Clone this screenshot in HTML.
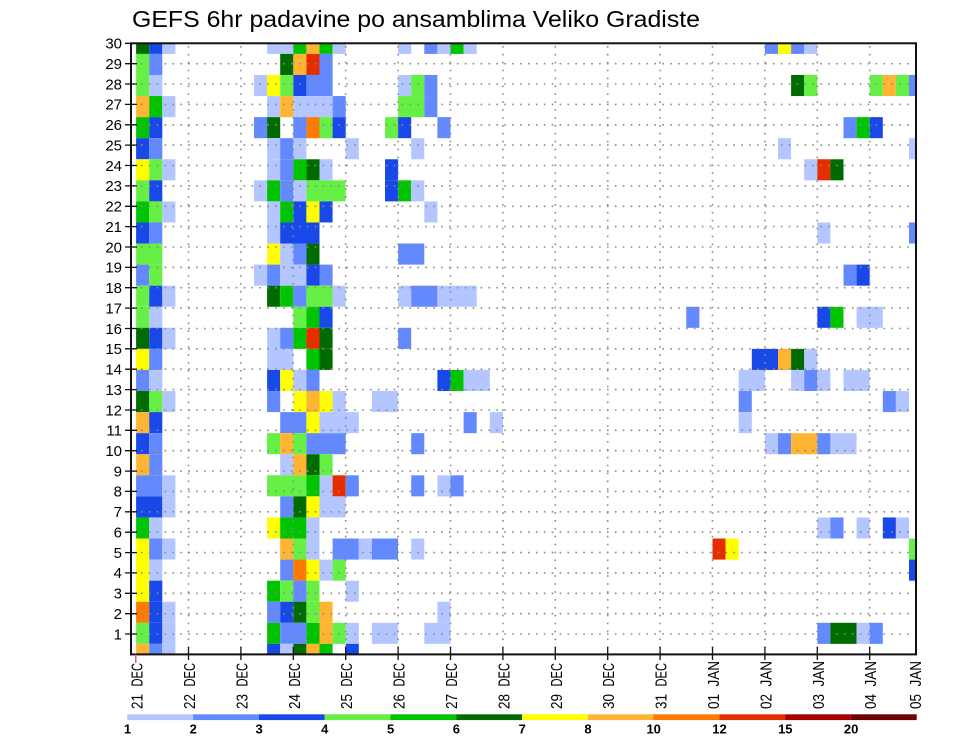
<!DOCTYPE html>
<html>
<head>
<meta charset="utf-8">
<style>
html,body{margin:0;padding:0;background:#fff;}
svg{display:block;}
text{font-family:"Liberation Sans",sans-serif;fill:#000;}
.a{fill:#b4c6ff}.b{fill:#6289ff}.c{fill:#1848e8}.d{fill:#66f046}.e{fill:#00c400}.f{fill:#006c00}
.g{fill:#ffff00}.h{fill:#ffb432}.i{fill:#ff7a00}.j{fill:#e62d00}.k{fill:#a80000}.l{fill:#6e0000}
</style>
</head>
<body>
<svg width="960" height="742" viewBox="0 0 960 742" xmlns="http://www.w3.org/2000/svg">
<rect x="0" y="0" width="960" height="742" fill="#fff"/>
<text x="132" y="27" font-size="23" textLength="568" lengthAdjust="spacingAndGlyphs">GEFS 6hr padavine po ansamblima Veliko Gradiste</text>

<!-- cells -->
<g>
<!-- j29 -->
<g transform="translate(0,43.3)">
<rect class="f" x="136.1" width="13.1" height="10.61"/><rect class="c" x="149.2" width="13.1" height="10.61"/><rect class="a" x="162.3" width="13.1" height="10.61"/>
<rect class="a" x="267.1" width="26.2" height="10.61"/><rect class="e" x="293.3" width="13.1" height="10.61"/><rect class="h" x="306.4" width="13.1" height="10.61"/><rect class="e" x="319.5" width="13.1" height="10.61"/><rect class="a" x="332.6" width="13.1" height="10.61"/>
<rect class="a" x="398.1" width="13.1" height="10.61"/><rect class="b" x="424.3" width="13.1" height="10.61"/><rect class="a" x="437.4" width="13.1" height="10.61"/><rect class="e" x="450.5" width="13.1" height="10.61"/><rect class="a" x="463.6" width="13.1" height="10.61"/>
<rect class="b" x="764.9" width="13.1" height="10.61"/><rect class="g" x="778" width="13.1" height="10.61"/><rect class="b" x="791.1" width="13.1" height="10.61"/><rect class="a" x="804.2" width="13.1" height="10.61"/>
</g>
<!-- j28 -->
<g transform="translate(0,53.91)">
<rect class="d" x="136.1" width="13.1" height="21.07"/><rect class="b" x="149.2" width="13.1" height="21.07"/>
<rect class="f" x="280.2" width="13.1" height="21.07"/><rect class="h" x="293.3" width="13.1" height="21.07"/><rect class="j" x="306.4" width="13.1" height="21.07"/><rect class="b" x="319.5" width="13.1" height="21.07"/>
</g>
<!-- j27 -->
<g transform="translate(0,74.98)">
<rect class="d" x="136.1" width="13.1" height="21.07"/><rect class="a" x="149.2" width="13.1" height="21.07"/>
<rect class="a" x="254" width="13.1" height="21.07"/><rect class="g" x="267.1" width="13.1" height="21.07"/><rect class="d" x="280.2" width="13.1" height="21.07"/><rect class="c" x="293.3" width="13.1" height="21.07"/><rect class="b" x="306.4" width="26.2" height="21.07"/>
<rect class="a" x="398.1" width="13.1" height="21.07"/><rect class="d" x="411.2" width="13.1" height="21.07"/><rect class="b" x="424.3" width="13.1" height="21.07"/>
<rect class="f" x="791.1" width="13.1" height="21.07"/><rect class="d" x="804.2" width="13.1" height="21.07"/>
<rect class="d" x="869.7" width="13.1" height="21.07"/><rect class="h" x="882.8" width="13.1" height="21.07"/><rect class="d" x="895.9" width="13.1" height="21.07"/><rect class="b" x="909" width="7" height="21.07"/>
</g>
<!-- j26 -->
<g transform="translate(0,96.05)">
<rect class="h" x="136.1" width="13.1" height="21.07"/><rect class="e" x="149.2" width="13.1" height="21.07"/><rect class="a" x="162.3" width="13.1" height="21.07"/>
<rect class="a" x="267.1" width="13.1" height="21.07"/><rect class="h" x="280.2" width="13.1" height="21.07"/><rect class="a" x="293.3" width="39.3" height="21.07"/><rect class="b" x="332.6" width="13.1" height="21.07"/>
<rect class="d" x="398.1" width="26.2" height="21.07"/><rect class="b" x="424.3" width="13.1" height="21.07"/>
</g>
<!-- j25 -->
<g transform="translate(0,117.12)">
<rect class="e" x="136.1" width="13.1" height="21.07"/><rect class="c" x="149.2" width="13.1" height="21.07"/>
<rect class="b" x="254" width="13.1" height="21.07"/><rect class="f" x="267.1" width="13.1" height="21.07"/><rect class="b" x="293.3" width="13.1" height="21.07"/><rect class="i" x="306.4" width="13.1" height="21.07"/><rect class="d" x="319.5" width="13.1" height="21.07"/><rect class="c" x="332.6" width="13.1" height="21.07"/>
<rect class="d" x="385" width="13.1" height="21.07"/><rect class="c" x="398.1" width="13.1" height="21.07"/><rect class="b" x="437.4" width="13.1" height="21.07"/>
<rect class="b" x="843.5" width="13.1" height="21.07"/><rect class="e" x="856.6" width="13.1" height="21.07"/><rect class="c" x="869.7" width="13.1" height="21.07"/>
</g>
<!-- j24 -->
<g transform="translate(0,138.19)">
<rect class="c" x="136.1" width="13.1" height="21.07"/><rect class="b" x="149.2" width="13.1" height="21.07"/>
<rect class="a" x="267.1" width="13.1" height="21.07"/><rect class="b" x="280.2" width="13.1" height="21.07"/><rect class="a" x="293.3" width="13.1" height="21.07"/>
<rect class="a" x="345.7" width="13.1" height="21.07"/><rect class="a" x="411.2" width="13.1" height="21.07"/>
<rect class="a" x="778" width="13.1" height="21.07"/><rect class="a" x="909" width="7" height="21.07"/>
</g>
<!-- j23 -->
<g transform="translate(0,159.26)">
<rect class="g" x="136.1" width="13.1" height="21.07"/><rect class="d" x="149.2" width="13.1" height="21.07"/><rect class="a" x="162.3" width="13.1" height="21.07"/>
<rect class="a" x="267.1" width="13.1" height="21.07"/><rect class="b" x="280.2" width="13.1" height="21.07"/><rect class="e" x="293.3" width="13.1" height="21.07"/><rect class="f" x="306.4" width="13.1" height="21.07"/><rect class="a" x="319.5" width="13.1" height="21.07"/>
<rect class="c" x="385" width="13.1" height="21.07"/>
<rect class="a" x="804.2" width="13.1" height="21.07"/><rect class="j" x="817.3" width="13.1" height="21.07"/><rect class="f" x="830.4" width="13.1" height="21.07"/>
</g>
<!-- j22 -->
<g transform="translate(0,180.33)">
<rect class="d" x="136.1" width="13.1" height="21.07"/><rect class="c" x="149.2" width="13.1" height="21.07"/>
<rect class="a" x="254" width="13.1" height="21.07"/><rect class="e" x="267.1" width="13.1" height="21.07"/><rect class="b" x="280.2" width="13.1" height="21.07"/><rect class="a" x="293.3" width="13.1" height="21.07"/><rect class="d" x="306.4" width="39.3" height="21.07"/>
<rect class="c" x="385" width="13.1" height="21.07"/><rect class="e" x="398.1" width="13.1" height="21.07"/><rect class="a" x="411.2" width="13.1" height="21.07"/>
</g>
<!-- j21 -->
<g transform="translate(0,201.4)">
<rect class="e" x="136.1" width="13.1" height="21.07"/><rect class="d" x="149.2" width="13.1" height="21.07"/><rect class="a" x="162.3" width="13.1" height="21.07"/>
<rect class="a" x="267.1" width="13.1" height="21.07"/><rect class="e" x="280.2" width="13.1" height="21.07"/><rect class="c" x="293.3" width="13.1" height="21.07"/><rect class="g" x="306.4" width="13.1" height="21.07"/><rect class="c" x="319.5" width="13.1" height="21.07"/>
<rect class="a" x="424.3" width="13.1" height="21.07"/>
</g>
<!-- j20 -->
<g transform="translate(0,222.47)">
<rect class="c" x="136.1" width="13.1" height="21.07"/><rect class="b" x="149.2" width="13.1" height="21.07"/>
<rect class="a" x="267.1" width="13.1" height="21.07"/><rect class="c" x="280.2" width="39.3" height="21.07"/>
<rect class="a" x="817.3" width="13.1" height="21.07"/><rect class="b" x="909" width="7" height="21.07"/>
</g>
<!-- j19 -->
<g transform="translate(0,243.54)">
<rect class="d" x="136.1" width="26.2" height="21.07"/>
<rect class="g" x="267.1" width="13.1" height="21.07"/><rect class="a" x="280.2" width="13.1" height="21.07"/><rect class="b" x="293.3" width="13.1" height="21.07"/><rect class="f" x="306.4" width="13.1" height="21.07"/>
<rect class="b" x="398.1" width="26.2" height="21.07"/>
</g>
<!-- j18 -->
<g transform="translate(0,264.61)">
<rect class="b" x="136.1" width="13.1" height="21.07"/><rect class="d" x="149.2" width="13.1" height="21.07"/>
<rect class="a" x="254" width="13.1" height="21.07"/><rect class="b" x="267.1" width="13.1" height="21.07"/><rect class="a" x="280.2" width="26.2" height="21.07"/><rect class="c" x="306.4" width="13.1" height="21.07"/><rect class="b" x="319.5" width="13.1" height="21.07"/>
<rect class="b" x="843.5" width="13.1" height="21.07"/><rect class="c" x="856.6" width="13.1" height="21.07"/>
</g>
<!-- j17 -->
<g transform="translate(0,285.68)">
<rect class="d" x="136.1" width="13.1" height="21.07"/><rect class="c" x="149.2" width="13.1" height="21.07"/><rect class="a" x="162.3" width="13.1" height="21.07"/>
<rect class="f" x="267.1" width="13.1" height="21.07"/><rect class="e" x="280.2" width="13.1" height="21.07"/><rect class="b" x="293.3" width="13.1" height="21.07"/><rect class="d" x="306.4" width="26.2" height="21.07"/><rect class="a" x="332.6" width="13.1" height="21.07"/>
<rect class="a" x="398.1" width="13.1" height="21.07"/><rect class="b" x="411.2" width="26.2" height="21.07"/><rect class="a" x="437.4" width="39.3" height="21.07"/>
</g>
<!-- j16 -->
<g transform="translate(0,306.75)">
<rect class="d" x="136.1" width="13.1" height="21.07"/><rect class="a" x="149.2" width="13.1" height="21.07"/>
<rect class="d" x="293.3" width="13.1" height="21.07"/><rect class="e" x="306.4" width="13.1" height="21.07"/><rect class="c" x="319.5" width="13.1" height="21.07"/>
<rect class="b" x="686.3" width="13.1" height="21.07"/>
<rect class="c" x="817.3" width="13.1" height="21.07"/><rect class="e" x="830.4" width="13.1" height="21.07"/><rect class="a" x="856.6" width="26.2" height="21.07"/>
</g>
<!-- j15 -->
<g transform="translate(0,327.82)">
<rect class="f" x="136.1" width="13.1" height="21.07"/><rect class="c" x="149.2" width="13.1" height="21.07"/><rect class="a" x="162.3" width="13.1" height="21.07"/>
<rect class="a" x="267.1" width="13.1" height="21.07"/><rect class="b" x="280.2" width="13.1" height="21.07"/><rect class="e" x="293.3" width="13.1" height="21.07"/><rect class="j" x="306.4" width="13.1" height="21.07"/><rect class="f" x="319.5" width="13.1" height="21.07"/>
<rect class="b" x="398.1" width="13.1" height="21.07"/>
</g>
<!-- j14 -->
<g transform="translate(0,348.89)">
<rect class="g" x="136.1" width="13.1" height="21.07"/><rect class="b" x="149.2" width="13.1" height="21.07"/>
<rect class="a" x="267.1" width="26.2" height="21.07"/><rect class="e" x="306.4" width="13.1" height="21.07"/><rect class="f" x="319.5" width="13.1" height="21.07"/>
<rect class="c" x="751.8" width="26.2" height="21.07"/><rect class="h" x="778" width="13.1" height="21.07"/><rect class="f" x="791.1" width="13.1" height="21.07"/><rect class="a" x="804.2" width="13.1" height="21.07"/>
</g>
<!-- j13 -->
<g transform="translate(0,369.96)">
<rect class="b" x="136.1" width="13.1" height="21.07"/><rect class="a" x="149.2" width="13.1" height="21.07"/>
<rect class="c" x="267.1" width="13.1" height="21.07"/><rect class="g" x="280.2" width="13.1" height="21.07"/><rect class="a" x="293.3" width="13.1" height="21.07"/><rect class="b" x="306.4" width="13.1" height="21.07"/>
<rect class="c" x="437.4" width="13.1" height="21.07"/><rect class="e" x="450.5" width="13.1" height="21.07"/><rect class="a" x="463.6" width="26.2" height="21.07"/>
<rect class="a" x="738.7" width="26.2" height="21.07"/><rect class="a" x="791.1" width="13.1" height="21.07"/><rect class="b" x="804.2" width="13.1" height="21.07"/><rect class="a" x="817.3" width="13.1" height="21.07"/><rect class="a" x="843.5" width="26.2" height="21.07"/>
</g>
<!-- j12 -->
<g transform="translate(0,391.03)">
<rect class="f" x="136.1" width="13.1" height="21.07"/><rect class="d" x="149.2" width="13.1" height="21.07"/><rect class="a" x="162.3" width="13.1" height="21.07"/>
<rect class="b" x="267.1" width="13.1" height="21.07"/><rect class="g" x="293.3" width="13.1" height="21.07"/><rect class="h" x="306.4" width="13.1" height="21.07"/><rect class="g" x="319.5" width="13.1" height="21.07"/><rect class="a" x="332.6" width="13.1" height="21.07"/>
<rect class="a" x="371.9" width="26.2" height="21.07"/>
<rect class="b" x="738.7" width="13.1" height="21.07"/><rect class="b" x="882.8" width="13.1" height="21.07"/><rect class="a" x="895.9" width="13.1" height="21.07"/>
</g>
<!-- j11 -->
<g transform="translate(0,412.1)">
<rect class="h" x="136.1" width="13.1" height="21.07"/><rect class="c" x="149.2" width="13.1" height="21.07"/>
<rect class="b" x="280.2" width="26.2" height="21.07"/><rect class="g" x="306.4" width="13.1" height="21.07"/><rect class="a" x="319.5" width="39.3" height="21.07"/>
<rect class="b" x="463.6" width="13.1" height="21.07"/><rect class="a" x="489.8" width="13.1" height="21.07"/>
<rect class="a" x="738.7" width="13.1" height="21.07"/>
</g>
<!-- j10 -->
<g transform="translate(0,433.17)">
<rect class="c" x="136.1" width="13.1" height="21.07"/><rect class="b" x="149.2" width="13.1" height="21.07"/>
<rect class="d" x="267.1" width="13.1" height="21.07"/><rect class="h" x="280.2" width="13.1" height="21.07"/><rect class="d" x="293.3" width="13.1" height="21.07"/><rect class="b" x="306.4" width="39.3" height="21.07"/>
<rect class="b" x="411.2" width="13.1" height="21.07"/>
<rect class="a" x="764.9" width="13.1" height="21.07"/><rect class="b" x="778" width="13.1" height="21.07"/><rect class="h" x="791.1" width="26.2" height="21.07"/><rect class="b" x="817.3" width="13.1" height="21.07"/><rect class="a" x="830.4" width="26.2" height="21.07"/>
</g>
<!-- j9 -->
<g transform="translate(0,454.24)">
<rect class="h" x="136.1" width="13.1" height="21.07"/><rect class="b" x="149.2" width="13.1" height="21.07"/>
<rect class="a" x="280.2" width="13.1" height="21.07"/><rect class="h" x="293.3" width="13.1" height="21.07"/><rect class="f" x="306.4" width="13.1" height="21.07"/><rect class="d" x="319.5" width="13.1" height="21.07"/>
</g>
<!-- j8 -->
<g transform="translate(0,475.31)">
<rect class="b" x="136.1" width="26.2" height="21.07"/><rect class="a" x="162.3" width="13.1" height="21.07"/>
<rect class="d" x="267.1" width="39.3" height="21.07"/><rect class="e" x="306.4" width="13.1" height="21.07"/><rect class="a" x="319.5" width="13.1" height="21.07"/><rect class="j" x="332.6" width="13.1" height="21.07"/><rect class="b" x="345.7" width="13.1" height="21.07"/>
<rect class="b" x="411.2" width="13.1" height="21.07"/><rect class="a" x="437.4" width="13.1" height="21.07"/><rect class="b" x="450.5" width="13.1" height="21.07"/>
</g>
<!-- j7 -->
<g transform="translate(0,496.38)">
<rect class="c" x="136.1" width="26.2" height="21.07"/><rect class="a" x="162.3" width="13.1" height="21.07"/>
<rect class="b" x="280.2" width="13.1" height="21.07"/><rect class="f" x="293.3" width="13.1" height="21.07"/><rect class="g" x="306.4" width="13.1" height="21.07"/><rect class="a" x="319.5" width="26.2" height="21.07"/>
</g>
<!-- j6 -->
<g transform="translate(0,517.45)">
<rect class="e" x="136.1" width="13.1" height="21.07"/><rect class="a" x="149.2" width="13.1" height="21.07"/>
<rect class="g" x="267.1" width="13.1" height="21.07"/><rect class="e" x="280.2" width="26.2" height="21.07"/><rect class="a" x="306.4" width="13.1" height="21.07"/>
<rect class="a" x="817.3" width="13.1" height="21.07"/><rect class="b" x="830.4" width="13.1" height="21.07"/><rect class="a" x="856.6" width="13.1" height="21.07"/><rect class="c" x="882.8" width="13.1" height="21.07"/><rect class="a" x="895.9" width="13.1" height="21.07"/>
</g>
<!-- j5 -->
<g transform="translate(0,538.52)">
<rect class="g" x="136.1" width="13.1" height="21.07"/><rect class="b" x="149.2" width="13.1" height="21.07"/><rect class="a" x="162.3" width="13.1" height="21.07"/>
<rect class="h" x="280.2" width="13.1" height="21.07"/><rect class="d" x="293.3" width="13.1" height="21.07"/><rect class="a" x="306.4" width="13.1" height="21.07"/>
<rect class="b" x="332.6" width="26.2" height="21.07"/><rect class="a" x="358.8" width="13.1" height="21.07"/><rect class="b" x="371.9" width="26.2" height="21.07"/><rect class="a" x="411.2" width="13.1" height="21.07"/>
<rect class="j" x="712.5" width="13.1" height="21.07"/><rect class="g" x="725.6" width="13.1" height="21.07"/><rect class="d" x="909" width="7" height="21.07"/>
</g>
<!-- j4 -->
<g transform="translate(0,559.59)">
<rect class="g" x="136.1" width="13.1" height="21.07"/><rect class="a" x="149.2" width="13.1" height="21.07"/>
<rect class="b" x="280.2" width="13.1" height="21.07"/><rect class="i" x="293.3" width="13.1" height="21.07"/><rect class="g" x="306.4" width="13.1" height="21.07"/><rect class="a" x="319.5" width="13.1" height="21.07"/><rect class="d" x="332.6" width="13.1" height="21.07"/>
<rect class="c" x="909" width="7" height="21.07"/>
</g>
<!-- j3 -->
<g transform="translate(0,580.66)">
<rect class="g" x="136.1" width="13.1" height="21.07"/><rect class="c" x="149.2" width="13.1" height="21.07"/>
<rect class="e" x="267.1" width="13.1" height="21.07"/><rect class="d" x="280.2" width="13.1" height="21.07"/><rect class="b" x="293.3" width="13.1" height="21.07"/><rect class="d" x="306.4" width="13.1" height="21.07"/><rect class="a" x="345.7" width="13.1" height="21.07"/>
</g>
<!-- j2 -->
<g transform="translate(0,601.73)">
<rect class="i" x="136.1" width="13.1" height="21.07"/><rect class="c" x="149.2" width="13.1" height="21.07"/><rect class="a" x="162.3" width="13.1" height="21.07"/>
<rect class="b" x="267.1" width="13.1" height="21.07"/><rect class="c" x="280.2" width="13.1" height="21.07"/><rect class="f" x="293.3" width="13.1" height="21.07"/><rect class="d" x="306.4" width="13.1" height="21.07"/><rect class="h" x="319.5" width="13.1" height="21.07"/>
<rect class="a" x="437.4" width="13.1" height="21.07"/>
</g>
<!-- j1 -->
<g transform="translate(0,622.8)">
<rect class="d" x="136.1" width="13.1" height="21.07"/><rect class="c" x="149.2" width="13.1" height="21.07"/><rect class="a" x="162.3" width="13.1" height="21.07"/>
<rect class="e" x="267.1" width="13.1" height="21.07"/><rect class="b" x="280.2" width="26.2" height="21.07"/><rect class="e" x="306.4" width="13.1" height="21.07"/><rect class="h" x="319.5" width="13.1" height="21.07"/><rect class="d" x="332.6" width="13.1" height="21.07"/><rect class="a" x="345.7" width="13.1" height="21.07"/>
<rect class="a" x="371.9" width="26.2" height="21.07"/><rect class="a" x="424.3" width="26.2" height="21.07"/>
<rect class="b" x="817.3" width="13.1" height="21.07"/><rect class="f" x="830.4" width="26.2" height="21.07"/><rect class="a" x="856.6" width="13.1" height="21.07"/><rect class="b" x="869.7" width="13.1" height="21.07"/>
</g>
<!-- j0 -->
<g transform="translate(0,643.87)">
<rect class="h" x="136.1" width="13.1" height="10.53"/><rect class="b" x="149.2" width="13.1" height="10.53"/><rect class="a" x="162.3" width="13.1" height="10.53"/>
<rect class="c" x="267.1" width="13.1" height="10.53"/><rect class="a" x="280.2" width="13.1" height="10.53"/><rect class="f" x="293.3" width="13.1" height="10.53"/><rect class="h" x="306.4" width="13.1" height="10.53"/><rect class="e" x="319.5" width="13.1" height="10.53"/><rect class="c" x="345.7" width="13.1" height="10.53"/>
</g>
</g>

<!-- dotted grid -->
<g stroke="#8a8a8a" stroke-width="1.6" stroke-dasharray="1.6 6.3" fill="none">
<path d="M133 634H916M133 613.7H916M133 593.3H916M133 572.9H916M133 552.6H916M133 532.2H916M133 511.8H916M133 491.4H916M133 471.1H916M133 450.7H916M133 430.3H916M133 410H916M133 389.6H916M133 369.2H916M133 348.8H916M133 328.5H916M133 308.1H916M133 287.7H916M133 267.4H916M133 247H916M133 226.6H916M133 206.3H916M133 185.9H916M133 165.5H916M133 145.1H916M133 124.8H916M133 104.4H916M133 84H916M133 63.7H916"/>
<path d="M188.5 46V654M240.9 46V654M293.3 46V654M345.7 46V654M398.1 46V654M450.5 46V654M502.9 46V654M555.3 46V654M607.7 46V654M660.1 46V654M712.5 46V654M764.9 46V654M817.3 46V654M869.7 46V654"/>
</g>

<!-- frame -->
<rect x="131" y="43.3" width="785" height="611.1" fill="none" stroke="#111" stroke-width="2"/>

<!-- y ticks -->
<g stroke="#111" stroke-width="1.3">
<path d="M125 634H137M125 613.7H137M125 593.3H137M125 572.9H137M125 552.6H137M125 532.2H137M125 511.8H137M125 491.4H137M125 471.1H137M125 450.7H137M125 430.3H137M125 410H137M125 389.6H137M125 369.2H137M125 348.8H137M125 328.5H137M125 308.1H137M125 287.7H137M125 267.4H137M125 247H137M125 226.6H137M125 206.3H137M125 185.9H137M125 165.5H137M125 145.1H137M125 124.8H137M125 104.4H137M125 84H137M125 63.7H137M125 43.3H137"/>
</g>
<!-- x ticks -->
<g stroke="#111" stroke-width="1.3">
<path d="M188.5 647V660M240.9 647V660M293.3 647V660M345.7 647V660M398.1 647V660M450.5 647V660M502.9 647V660M555.3 647V660M607.7 647V660M660.1 647V660M712.5 647V660M764.9 647V660M817.3 647V660M869.7 647V660"/>
</g>
<path d="M135.8 654V663" stroke="#b06060" stroke-width="1.3"/>

<!-- y labels -->
<g font-size="15" text-anchor="end">
<text x="122" y="639.3">1</text><text x="122" y="619">2</text><text x="122" y="598.6">3</text><text x="122" y="578.2">4</text><text x="122" y="557.9">5</text>
<text x="122" y="537.5">6</text><text x="122" y="517.1">7</text><text x="122" y="496.7">8</text><text x="122" y="476.4">9</text><text x="122" y="456">10</text>
<text x="122" y="435.6">11</text><text x="122" y="415.3">12</text><text x="122" y="394.9">13</text><text x="122" y="374.5">14</text><text x="122" y="354.1">15</text>
<text x="122" y="333.8">16</text><text x="122" y="313.4">17</text><text x="122" y="293">18</text><text x="122" y="272.7">19</text><text x="122" y="252.3">20</text>
<text x="122" y="231.9">21</text><text x="122" y="211.6">22</text><text x="122" y="191.2">23</text><text x="122" y="170.8">24</text><text x="122" y="150.4">25</text>
<text x="122" y="130.1">26</text><text x="122" y="109.7">27</text><text x="122" y="89.3">28</text><text x="122" y="69">29</text><text x="122" y="48.6">30</text>
</g>

<!-- x labels (rotated) -->
<g font-size="16" lengthAdjust="spacingAndGlyphs">
<text transform="translate(142.6,709) rotate(-90)" textLength="15" lengthAdjust="spacingAndGlyphs">21</text><text transform="translate(142.6,686.5) rotate(-90)" textLength="23.5" lengthAdjust="spacingAndGlyphs">DEC</text>
<text transform="translate(195,709) rotate(-90)" textLength="15" lengthAdjust="spacingAndGlyphs">22</text><text transform="translate(195,686.5) rotate(-90)" textLength="23.5" lengthAdjust="spacingAndGlyphs">DEC</text>
<text transform="translate(247.4,709) rotate(-90)" textLength="15" lengthAdjust="spacingAndGlyphs">23</text><text transform="translate(247.4,686.5) rotate(-90)" textLength="23.5" lengthAdjust="spacingAndGlyphs">DEC</text>
<text transform="translate(299.8,709) rotate(-90)" textLength="15" lengthAdjust="spacingAndGlyphs">24</text><text transform="translate(299.8,686.5) rotate(-90)" textLength="23.5" lengthAdjust="spacingAndGlyphs">DEC</text>
<text transform="translate(352.2,709) rotate(-90)" textLength="15" lengthAdjust="spacingAndGlyphs">25</text><text transform="translate(352.2,686.5) rotate(-90)" textLength="23.5" lengthAdjust="spacingAndGlyphs">DEC</text>
<text transform="translate(404.6,709) rotate(-90)" textLength="15" lengthAdjust="spacingAndGlyphs">26</text><text transform="translate(404.6,686.5) rotate(-90)" textLength="23.5" lengthAdjust="spacingAndGlyphs">DEC</text>
<text transform="translate(457,709) rotate(-90)" textLength="15" lengthAdjust="spacingAndGlyphs">27</text><text transform="translate(457,686.5) rotate(-90)" textLength="23.5" lengthAdjust="spacingAndGlyphs">DEC</text>
<text transform="translate(509.4,709) rotate(-90)" textLength="15" lengthAdjust="spacingAndGlyphs">28</text><text transform="translate(509.4,686.5) rotate(-90)" textLength="23.5" lengthAdjust="spacingAndGlyphs">DEC</text>
<text transform="translate(561.8,709) rotate(-90)" textLength="15" lengthAdjust="spacingAndGlyphs">29</text><text transform="translate(561.8,686.5) rotate(-90)" textLength="23.5" lengthAdjust="spacingAndGlyphs">DEC</text>
<text transform="translate(614.2,709) rotate(-90)" textLength="15" lengthAdjust="spacingAndGlyphs">30</text><text transform="translate(614.2,686.5) rotate(-90)" textLength="23.5" lengthAdjust="spacingAndGlyphs">DEC</text>
<text transform="translate(666.6,709) rotate(-90)" textLength="15" lengthAdjust="spacingAndGlyphs">31</text><text transform="translate(666.6,686.5) rotate(-90)" textLength="23.5" lengthAdjust="spacingAndGlyphs">DEC</text>
<text transform="translate(719,709) rotate(-90)" textLength="15" lengthAdjust="spacingAndGlyphs">01</text><text transform="translate(719,686.5) rotate(-90)" textLength="25.5" lengthAdjust="spacingAndGlyphs">JAN</text>
<text transform="translate(771.4,709) rotate(-90)" textLength="15" lengthAdjust="spacingAndGlyphs">02</text><text transform="translate(771.4,686.5) rotate(-90)" textLength="25.5" lengthAdjust="spacingAndGlyphs">JAN</text>
<text transform="translate(823.8,709) rotate(-90)" textLength="15" lengthAdjust="spacingAndGlyphs">03</text><text transform="translate(823.8,686.5) rotate(-90)" textLength="25.5" lengthAdjust="spacingAndGlyphs">JAN</text>
<text transform="translate(876.2,709) rotate(-90)" textLength="15" lengthAdjust="spacingAndGlyphs">04</text><text transform="translate(876.2,686.5) rotate(-90)" textLength="25.5" lengthAdjust="spacingAndGlyphs">JAN</text>
<text transform="translate(921,709) rotate(-90)" textLength="15" lengthAdjust="spacingAndGlyphs">05</text><text transform="translate(921,686.5) rotate(-90)" textLength="25.5" lengthAdjust="spacingAndGlyphs">JAN</text>
</g>

<!-- colorbar -->
<g>
<rect class="a" x="127.3" y="714.3" width="65.8" height="5.8"/>
<rect class="b" x="193.1" y="714.3" width="65.8" height="5.8"/>
<rect class="c" x="258.9" y="714.3" width="65.8" height="5.8"/>
<rect class="d" x="324.6" y="714.3" width="65.8" height="5.8"/>
<rect class="e" x="390.4" y="714.3" width="65.8" height="5.8"/>
<rect class="f" x="456.2" y="714.3" width="65.8" height="5.8"/>
<rect class="g" x="522" y="714.3" width="65.8" height="5.8"/>
<rect class="h" x="587.8" y="714.3" width="65.8" height="5.8"/>
<rect class="i" x="653.5" y="714.3" width="65.8" height="5.8"/>
<rect class="j" x="719.3" y="714.3" width="65.8" height="5.8"/>
<rect class="k" x="785.1" y="714.3" width="65.8" height="5.8"/>
<rect class="l" x="850.9" y="714.3" width="65.8" height="5.8"/>
</g>
<g font-size="13" font-weight="bold" text-anchor="middle">
<text x="127.5" y="733.5">1</text><text x="193.3" y="733.5">2</text><text x="259.1" y="733.5">3</text><text x="324.8" y="733.5">4</text>
<text x="390.6" y="733.5">5</text><text x="456.4" y="733.5">6</text><text x="522.2" y="733.5">7</text><text x="588" y="733.5">8</text>
<text x="653.7" y="733.5">10</text><text x="719.5" y="733.5">12</text><text x="785.3" y="733.5">15</text><text x="851.1" y="733.5">20</text>
</g>
</svg>
</body>
</html>
